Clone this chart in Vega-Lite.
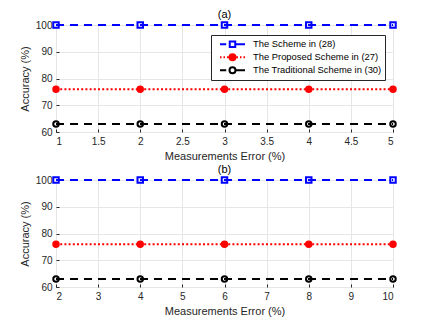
{
  "$schema": "https://vega.github.io/schema/vega-lite/v6.json",
  "padding": {"left": 18, "top": 8, "right": 5, "bottom": 3},
  "background": "white",
  "datasets": {
    "acc": [
      {"panel": "a", "x": 1, "acc": 100, "series": "The Scheme in (28)"},
      {"panel": "a", "x": 2, "acc": 100, "series": "The Scheme in (28)"},
      {"panel": "a", "x": 3, "acc": 100, "series": "The Scheme in (28)"},
      {"panel": "a", "x": 4, "acc": 100, "series": "The Scheme in (28)"},
      {"panel": "a", "x": 5, "acc": 100, "series": "The Scheme in (28)"},
      {"panel": "a", "x": 1, "acc": 76, "series": "The Proposed Scheme in (27)"},
      {"panel": "a", "x": 2, "acc": 76, "series": "The Proposed Scheme in (27)"},
      {"panel": "a", "x": 3, "acc": 76, "series": "The Proposed Scheme in (27)"},
      {"panel": "a", "x": 4, "acc": 76, "series": "The Proposed Scheme in (27)"},
      {"panel": "a", "x": 5, "acc": 76, "series": "The Proposed Scheme in (27)"},
      {"panel": "a", "x": 1, "acc": 63, "series": "The Traditional Scheme in (30)"},
      {"panel": "a", "x": 2, "acc": 63, "series": "The Traditional Scheme in (30)"},
      {"panel": "a", "x": 3, "acc": 63, "series": "The Traditional Scheme in (30)"},
      {"panel": "a", "x": 4, "acc": 63, "series": "The Traditional Scheme in (30)"},
      {"panel": "a", "x": 5, "acc": 63, "series": "The Traditional Scheme in (30)"},
      {"panel": "b", "x": 2, "acc": 100, "series": "The Scheme in (28)"},
      {"panel": "b", "x": 4, "acc": 100, "series": "The Scheme in (28)"},
      {"panel": "b", "x": 6, "acc": 100, "series": "The Scheme in (28)"},
      {"panel": "b", "x": 8, "acc": 100, "series": "The Scheme in (28)"},
      {"panel": "b", "x": 10, "acc": 100, "series": "The Scheme in (28)"},
      {"panel": "b", "x": 2, "acc": 76, "series": "The Proposed Scheme in (27)"},
      {"panel": "b", "x": 4, "acc": 76, "series": "The Proposed Scheme in (27)"},
      {"panel": "b", "x": 6, "acc": 76, "series": "The Proposed Scheme in (27)"},
      {"panel": "b", "x": 8, "acc": 76, "series": "The Proposed Scheme in (27)"},
      {"panel": "b", "x": 10, "acc": 76, "series": "The Proposed Scheme in (27)"},
      {"panel": "b", "x": 2, "acc": 63, "series": "The Traditional Scheme in (30)"},
      {"panel": "b", "x": 4, "acc": 63, "series": "The Traditional Scheme in (30)"},
      {"panel": "b", "x": 6, "acc": 63, "series": "The Traditional Scheme in (30)"},
      {"panel": "b", "x": 8, "acc": 63, "series": "The Traditional Scheme in (30)"},
      {"panel": "b", "x": 10, "acc": 63, "series": "The Traditional Scheme in (30)"}
    ]
  },
  "data": {"name": "acc"},
  "config": {
    "font": "Liberation Sans",
    "view": {"stroke": "#262626", "strokeWidth": 1},
    "axis": {
      "labelFont": "Liberation Sans",
      "labelFontSize": 10,
      "labelColor": "#262626",
      "titleFont": "Liberation Sans",
      "titleFontSize": 11,
      "titleFontWeight": "normal",
      "titleColor": "#262626",
      "gridColor": "#e6e6e6",
      "gridWidth": 1,
      "domain": false,
      "ticks": true,
      "tickSize": -3,
      "tickColor": "#262626",
      "labelPadding": 7
    },
    "title": {"fontSize": 11, "fontWeight": "normal", "font": "Liberation Sans", "color": "#000000", "offset": -2},
    "concat": {"spacing": 1}
  },
  "resolve": {"legend": {"color": "independent"}, "scale": {"x": "independent"}},
  "vconcat": [
    {
      "title": "(a)",
      "width": 337,
      "height": 107,
      "transform": [{"filter": "datum.panel === 'a'"}],
      "encoding": {
        "x": {"field": "x", "type": "quantitative", "title": "Measurements Error (%)",
              "scale": {"domain": [1, 5], "nice": false, "zero": false},
              "axis": {"values": [1, 1.5, 2, 2.5, 3, 3.5, 4, 4.5, 5], "format": "~g", "titlePadding": 4}},
        "y": {"field": "acc", "type": "quantitative", "title": "Accuracy (%)",
              "scale": {"domain": [60, 100], "nice": false, "zero": false},
              "axis": {"values": [60, 70, 80, 90, 100], "titlePadding": 5}}
      },
      "layer": [
        {
          "mark": {"type": "line", "strokeWidth": 2},
          "encoding": {
            "color": {"field": "series", "type": "nominal",
                      "scale": {"domain": ["The Scheme in (28)", "The Proposed Scheme in (27)", "The Traditional Scheme in (30)"], "range": ["#0000ff", "#ff0000", "#000000"]},
                      "legend": {
                        "title": null, "orient": "none", "legendX": 155, "legendY": 10,
                        "padding": 3, "rowPadding": 0, "clipHeight": 12.5,
                        "strokeColor": "#262626", "fillColor": "white",
                        "labelFont": "Liberation Sans", "labelFontSize": 9.4, "labelColor": "#000000",
                        "symbolSize": 625, "symbolStrokeWidth": 2, "symbolOffset": 5, "labelOffset": 7,
                        "encode": {"symbols": {"update": {
                          "shape": {"signal": "datum.value === 'The Scheme in (28)' ? 'M-1,0H-0.5M0.22,0H1M-0.22,-0.22H0.22V0.22H-0.22Z' : datum.value === 'The Proposed Scheme in (27)' ? 'M-1,0H-0.88M-0.72,0H-0.6M-0.44,0H-0.32M0.32,0H0.44M0.6,0H0.72M0.88,0H1M-0.24,0A0.24,0.24,0,1,0,0.24,0A0.24,0.24,0,1,0,-0.24,0Z' : 'M-1,0H-0.5M0.24,0H1M-0.24,0A0.24,0.24,0,1,0,0.24,0A0.24,0.24,0,1,0,-0.24,0Z'"},
                          "fill": {"signal": "datum.value === 'The Proposed Scheme in (27)' ? '#ff0000' : 'white'"},
                          "stroke": {"signal": "datum.value === 'The Scheme in (28)' ? '#0000ff' : datum.value === 'The Proposed Scheme in (27)' ? '#ff0000' : '#000000'"},
                          "strokeDash": {"value": []},
                          "opacity": {"value": 1}
                        }}}
                      }},
            "strokeDash": {"field": "series", "type": "nominal", "legend": null,
                           "scale": {"domain": ["The Scheme in (28)", "The Proposed Scheme in (27)", "The Traditional Scheme in (30)"], "range": [[8, 6], [2, 2.2], [8, 6]]}}
          }
        },
        {
          "mark": {"type": "point", "filled": false, "strokeWidth": 2, "size": 30, "opacity": 1},
          "encoding": {
            "color": {"field": "series", "type": "nominal", "legend": null},
            "shape": {"field": "series", "type": "nominal", "legend": null,
                      "scale": {"domain": ["The Scheme in (28)", "The Proposed Scheme in (27)", "The Traditional Scheme in (30)"], "range": ["square", "circle", "circle"]}},
            "fill": {"field": "series", "type": "nominal", "legend": null,
                     "scale": {"domain": ["The Scheme in (28)", "The Proposed Scheme in (27)", "The Traditional Scheme in (30)"], "range": ["transparent", "#ff0000", "transparent"]}}
          }
        }
      ]
    },
    {
      "title": "(b)",
      "width": 337,
      "height": 107,
      "transform": [{"filter": "datum.panel === 'b'"}],
      "encoding": {
        "x": {"field": "x", "type": "quantitative", "title": "Measurements Error (%)",
              "scale": {"domain": [2, 10], "nice": false, "zero": false},
              "axis": {"values": [2, 3, 4, 5, 6, 7, 8, 9, 10], "titlePadding": 4}},
        "y": {"field": "acc", "type": "quantitative", "title": "Accuracy (%)",
              "scale": {"domain": [60, 100], "nice": false, "zero": false},
              "axis": {"values": [60, 70, 80, 90, 100], "titlePadding": 5}}
      },
      "layer": [
        {
          "mark": {"type": "line", "strokeWidth": 2},
          "encoding": {
            "color": {"field": "series", "type": "nominal", "legend": null,
                      "scale": {"domain": ["The Scheme in (28)", "The Proposed Scheme in (27)", "The Traditional Scheme in (30)"], "range": ["#0000ff", "#ff0000", "#000000"]}},
            "strokeDash": {"field": "series", "type": "nominal", "legend": null,
                           "scale": {"domain": ["The Scheme in (28)", "The Proposed Scheme in (27)", "The Traditional Scheme in (30)"], "range": [[8, 6], [2, 2.2], [8, 6]]}}
          }
        },
        {
          "mark": {"type": "point", "filled": false, "strokeWidth": 2, "size": 30, "opacity": 1},
          "encoding": {
            "color": {"field": "series", "type": "nominal", "legend": null},
            "shape": {"field": "series", "type": "nominal", "legend": null,
                      "scale": {"domain": ["The Scheme in (28)", "The Proposed Scheme in (27)", "The Traditional Scheme in (30)"], "range": ["square", "circle", "circle"]}},
            "fill": {"field": "series", "type": "nominal", "legend": null,
                     "scale": {"domain": ["The Scheme in (28)", "The Proposed Scheme in (27)", "The Traditional Scheme in (30)"], "range": ["transparent", "#ff0000", "transparent"]}}
          }
        }
      ]
    }
  ]
}
